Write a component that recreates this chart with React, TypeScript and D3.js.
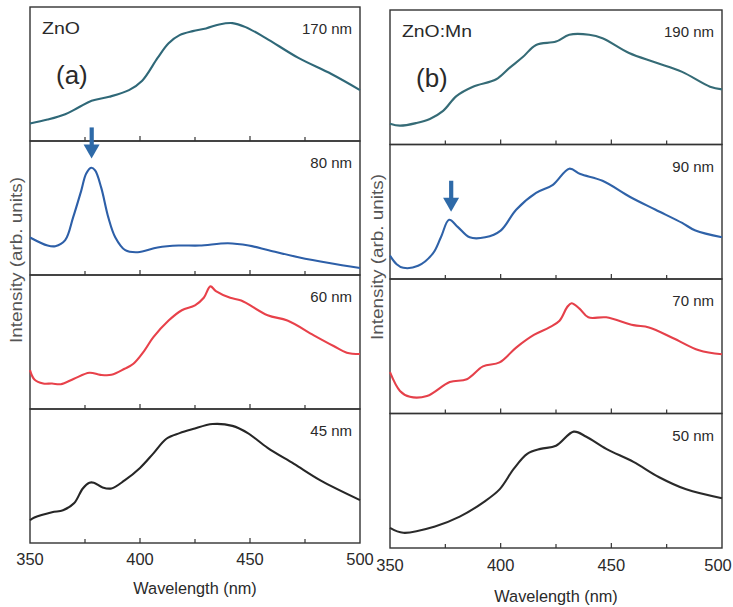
import React from 'react';
import * as d3 from 'd3';

// x axis
const WAVE_LABELS = [350, 400, 450, 500];
const WAVE_TICKS = [375, 400, 425, 450, 475];

// spectra: [wavelength nm, relative intensity 0..1 within its strip]
const znO170: [number, number][] = [
	[350, 0.13], [358, 0.16], [366, 0.2], [372, 0.25], [378, 0.3], [386, 0.33], [395, 0.38], [401, 0.45],
	[408, 0.62], [413, 0.73], [418, 0.79], [424, 0.82], [430, 0.84], [436, 0.87], [442, 0.88], [448, 0.85],
	[457, 0.77], [472, 0.62], [487, 0.5], [500, 0.38],
];
const znO80: [number, number][] = [
	[350, 0.28], [358, 0.22], [361.5, 0.215], [366, 0.26], [369.6, 0.43], [373.3, 0.63], [375.5, 0.755],
	[377.8, 0.8], [379.6, 0.78], [382.4, 0.65], [385.6, 0.43], [388.8, 0.28], [393.3, 0.185], [399, 0.17],
	[408, 0.205], [417.5, 0.22], [427, 0.22], [440, 0.237], [449.4, 0.22], [458.5, 0.185], [472, 0.133],
	[486, 0.089], [500, 0.052],
];
const znO60: [number, number][] = [
	[350, 0.29], [352, 0.22], [356, 0.19], [360, 0.19], [364, 0.185], [370, 0.226], [377, 0.27], [382, 0.255],
	[387, 0.255], [393, 0.3], [397, 0.338], [402, 0.436], [406, 0.534], [413, 0.66], [419, 0.737], [425, 0.774],
	[429, 0.83], [432, 0.915], [434.5, 0.88], [441, 0.83], [446, 0.81], [458, 0.7], [467, 0.66], [479, 0.55],
	[488, 0.47], [494, 0.42], [500, 0.41],
];
const znO45: [number, number][] = [
	[350, 0.17], [352, 0.19], [360, 0.23], [365, 0.244], [370, 0.296], [374, 0.407], [377, 0.45], [379, 0.45],
	[383, 0.415], [387, 0.407], [393, 0.467], [400, 0.56], [406, 0.667], [412, 0.778], [418, 0.82], [424, 0.85],
	[433, 0.888], [442, 0.874], [449, 0.82], [458, 0.71], [470, 0.59], [482, 0.467], [500, 0.32],
];

const mn190: [number, number][] = [
	[350, 0.155], [354.5, 0.14], [362, 0.16], [368, 0.19], [374, 0.25], [380, 0.36], [387.5, 0.43], [398, 0.485],
	[404, 0.57], [410, 0.65], [416, 0.74], [425, 0.765], [431, 0.816], [440, 0.816], [446, 0.79], [458, 0.68],
	[470, 0.61], [482, 0.54], [494.6, 0.43], [500, 0.41],
];
const mn90: [number, number][] = [
	[350, 0.174], [353, 0.11], [356, 0.083], [362.7, 0.098], [369.4, 0.19], [373, 0.31], [376.7, 0.44],
	[380.7, 0.386], [386, 0.31], [393, 0.31], [400, 0.36], [407, 0.515], [416, 0.64], [423.6, 0.7], [431, 0.82],
	[436, 0.78], [446, 0.73], [458.5, 0.61], [470, 0.515], [482, 0.417], [488, 0.36], [500, 0.31],
];
const mn70: [number, number][] = [
	[350, 0.307], [354.5, 0.168], [359, 0.124], [366.7, 0.13], [377, 0.234], [384.7, 0.255], [392, 0.35],
	[399.5, 0.38], [407, 0.49], [415, 0.584], [422, 0.64], [426.6, 0.69], [430, 0.79], [432, 0.82], [435.6, 0.78],
	[439.6, 0.715], [447.7, 0.715], [460, 0.657], [467, 0.64], [478, 0.56], [489.6, 0.47], [500, 0.44],
];
const mn50: [number, number][] = [
	[350, 0.15], [356, 0.113], [370, 0.158], [381.5, 0.233], [392, 0.338], [399.5, 0.436], [405.8, 0.586],
	[412, 0.7], [418, 0.737], [425, 0.76], [433, 0.865], [438.7, 0.827], [447.7, 0.737], [460, 0.64],
	[471.6, 0.526], [483.8, 0.436], [500, 0.37],
];

const panelA = {
	left: 30, right: 360, top: 7, bottom: 543,
	title: 'ZnO', tag: '(a)', titleW: 38,
	rows: [
		{ label: '170 nm', color: '#2f6878', data: znO170 },
		{ label: '80 nm', color: '#2d5fa8', data: znO80 },
		{ label: '60 nm', color: '#e8414a', data: znO60 },
		{ label: '45 nm', color: '#262626', data: znO45 },
	],
	arrow: { wl: 378, value: 0.87 },
	labelY: 565, titleY: 594, yTitleX: 18, yTitleY: 260,
};
const panelB = {
	left: 390, right: 722, top: 10, bottom: 548,
	title: 'ZnO:Mn', tag: '(b)', titleW: 70,
	rows: [
		{ label: '190 nm', color: '#356b76', data: mn190 },
		{ label: '90 nm', color: '#2f62a8', data: mn90 },
		{ label: '70 nm', color: '#e5404a', data: mn70 },
		{ label: '50 nm', color: '#2a2a2a', data: mn50 },
	],
	arrow: { wl: 377.6, value: 0.5 },
	labelY: 571, titleY: 602, yTitleX: 379, yTitleY: 257,
};

const FONT = '"Liberation Sans", Arial, Helvetica, sans-serif';

function Panel({ p }: { p: typeof panelA }) {
	const x = d3.scaleLinear().domain([350, 500]).range([p.left, p.right]);
	const rowH = (p.bottom - p.top) / p.rows.length;

	return (
		<g fontFamily={FONT}>
			{p.rows.map((r, i) => {
				const top = p.top + i * rowH;
				const y = d3.scaleLinear().domain([0, 1]).range([top + rowH, top]);
				const line = d3.line<[number, number]>()
					.x(d => x(d[0]))
					.y(d => y(d[1]))
					.curve(d3.curveCatmullRom.alpha(0.5));
				return (
					<g key={r.label}>
						<rect x={p.left} y={top} width={p.right - p.left} height={rowH}
							fill="none" stroke="#333" strokeWidth={1.4} />
						{WAVE_TICKS.map(t => (
							<line key={t} x1={x(t)} x2={x(t)} y1={top + rowH} y2={top + rowH - (t % 50 === 0 ? 5 : 4)}
								stroke="#333" strokeWidth={1.2} />
						))}
						<path d={line(r.data) || ''} fill="none" stroke={r.color} strokeWidth={2.1}
							strokeLinejoin="round" />
						<text x={p.right - 8} y={top + 27} textAnchor="end" fontSize={15} fill="#2a2a2a">{r.label}</text>
					</g>
				);
			})}
			<text x={p.left + 12} y={p.top + 27} fontSize={16.5} fill="#2a2a2a"
				textLength={p.titleW} lengthAdjust="spacingAndGlyphs">{p.title}</text>
			<text x={p.left + 26} y={p.top + 77} fontSize={26} fill="#2a2a2a">{p.tag}</text>
			{(() => {
				const top = p.top + rowH;
				const y = d3.scaleLinear().domain([0, 1]).range([top + rowH, top]);
				const cx = x(p.arrow.wl);
				const tip = y(p.arrow.value);
				return (
					<g fill="#2e6aa8">
						<rect x={cx - 2} y={tip - 31} width={4.2} height={20} />
						<path d={`M${cx - 8},${tip - 14} L${cx + 8},${tip - 14} L${cx},${tip} Z`} />
					</g>
				);
			})()}
			{WAVE_LABELS.map(t => (
				<text key={t} x={x(t) - (t === 500 && p.right > 700 ? 4 : 0)} y={p.labelY} textAnchor="middle"
					fontSize={16.5} fill="#2a2a2a">{t}</text>
			))}
			<text x={(p.left + p.right) / 2} y={p.titleY} textAnchor="middle" fontSize={16.3} fill="#2a2a2a">Wavelength (nm)</text>
			<text transform={`translate(${p.yTitleX},${p.yTitleY}) rotate(-90)`} textAnchor="middle"
				dominantBaseline="middle" fontSize={16.5} fill="#555"
				textLength={166} lengthAdjust="spacingAndGlyphs">Intensity (arb. units)</text>
		</g>
	);
}

export default function App() {
	return (
		<div style={{ position: 'fixed', left: 0, top: 0 }}>
			<svg width={733} height={607} style={{ display: 'block', background: '#fff' }}>
				<Panel p={panelA} />
				<Panel p={panelB} />
			</svg>
		</div>
	);
}
